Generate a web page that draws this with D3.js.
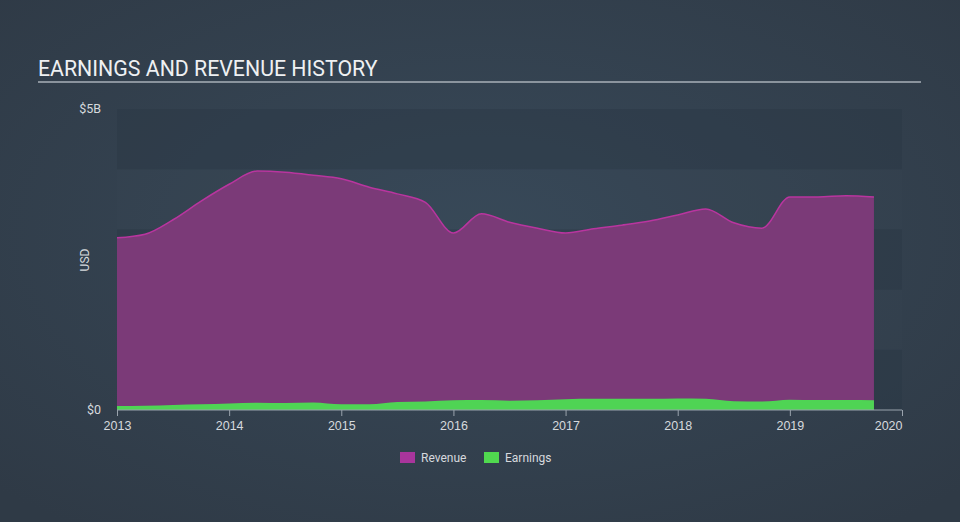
<!DOCTYPE html>
<html><head><meta charset="utf-8">
<script src="https://cdn.jsdelivr.net/npm/d3@7"></script>
<style>html,body{margin:0;padding:0;background:#333f4d;}svg{display:block;font-family:Roboto,"Open Sans",sans-serif;}</style>
</head><body>
<script>
const periods = [2013.0,2013.25,2013.5,2013.75,2014.0,2014.25,2014.5,2014.75,2015.0,2015.25,2015.5,2015.75,2016.0,2016.25,2016.5,2016.75,2017.0,2017.25,2017.5,2017.75,2018.0,2018.25,2018.5,2018.75,2019.0,2019.25,2019.5,2019.75];
const revenue = [2.86,2.92,3.16,3.47,3.75,3.97,3.95,3.90,3.84,3.70,3.59,3.45,2.94,3.26,3.12,3.02,2.94,3.01,3.07,3.14,3.24,3.34,3.11,3.02,3.54,3.54,3.56,3.54];
const earnings = [0.066,0.07,0.085,0.094,0.11,0.12,0.115,0.125,0.094,0.094,0.133,0.14,0.16,0.165,0.155,0.16,0.18,0.185,0.185,0.185,0.19,0.185,0.145,0.14,0.17,0.165,0.165,0.16];
const xTicks = [2013,2014,2015,2016,2017,2018,2019,2020];
const yTickLabels = ["$0","$5B"];
const yTickValues = [0,5];

const W=960,H=522;
const svg=d3.select("body").append("svg").attr("width",W).attr("height",H);
const defs=svg.append("defs");
const rg=defs.append("radialGradient").attr("id","bg").attr("cx","50%").attr("cy","45%").attr("r","70%");
rg.append("stop").attr("offset","0%").attr("stop-color","#384959");
rg.append("stop").attr("offset","100%").attr("stop-color","#2f3a46");
svg.append("rect").attr("width",W).attr("height",H).attr("fill","url(#bg)");

const x=d3.scaleLinear().domain([2013,2020]).range([117,902]);
const y=d3.scaleLinear().domain([0,5]).range([410,109]);

// bands
const bands=[0,1,2,3,4];
svg.selectAll("rect.band").data(bands).enter().append("rect")
 .attr("x",x(2013)).attr("width",x(2020)-x(2013))
 .attr("y",d=>y(d+1)).attr("height",d=>y(d)-y(d+1))
 .attr("fill",d=>d%2===0?"#2b3744":"#3a4a5a").attr("opacity",d=>d%2===0?0.45:0.15);

// title
svg.append("text").attr("x",38).attr("y",76).attr("fill","#eef0f2").attr("font-size",21.3).text("EARNINGS AND REVENUE HISTORY");
svg.append("line").attr("x1",38).attr("x2",921).attr("y1",82).attr("y2",82).attr("stroke","#a9b0b8").attr("stroke-width",1.5);

const data=periods.map((p,i)=>({p,r:revenue[i],e:earnings[i]}));
const curve=d3.curveMonotoneX;
svg.append("path").datum(data).attr("d",d3.area().x(d=>x(d.p)).y0(y(0)).y1(d=>y(d.r)).curve(curve)).attr("fill","#7b3a78");
svg.append("path").datum(data).attr("d",d3.line().x(d=>x(d.p)).y(d=>y(d.r)).curve(curve)).attr("fill","none").attr("stroke","#b9359f").attr("stroke-width",1.5);
svg.append("path").datum(data).attr("d",d3.area().x(d=>x(d.p)).y0(y(0)).y1(d=>y(d.e)).curve(curve)).attr("fill","#4fd454");

// x axis
const xa=svg.append("g").attr("transform",`translate(0,${y(0)})`).call(d3.axisBottom(x).tickValues(xTicks).tickFormat(d3.format("d")).tickSize(6).tickSizeOuter(0));
xa.selectAll(".tick line").attr("stroke","#9aa3ad");
xa.selectAll(".tick text").attr("fill","#d6d9dd").attr("font-size",12.5).attr("dy","0.9em");
xa.selectAll(".tick text").filter(d=>d===2020).attr("text-anchor","end");
xa.select(".domain").remove();
xa.append("line").attr("x1",x(2013)).attr("x2",x(2020)).attr("stroke","#9aa3ad");

// y labels
svg.selectAll("text.yl").data(yTickValues).enter().append("text")
 .attr("x",101).attr("y",d=>y(d)).attr("dy","0.35em").attr("text-anchor","end")
 .attr("fill","#d6d9dd").attr("font-size",12.5).text((d,i)=>yTickLabels[i]);
svg.append("text").attr("transform","translate(89,260) rotate(-90)").attr("text-anchor","middle").attr("fill","#d6d9dd").attr("font-size",12).text("USD");

// legend
const leg=[{n:"Revenue",c:"#a9359c",x:400},{n:"Earnings",c:"#50d94f",x:484}];
const lg=svg.selectAll("g.leg").data(leg).enter().append("g").attr("transform",d=>`translate(${d.x},452)`);
lg.append("rect").attr("width",15).attr("height",11).attr("fill",d=>d.c);
lg.append("text").attr("x",21).attr("y",6).attr("dy","0.35em").attr("fill","#d6d9dd").attr("font-size",12).text(d=>d.n);
</script>
</body></html>
